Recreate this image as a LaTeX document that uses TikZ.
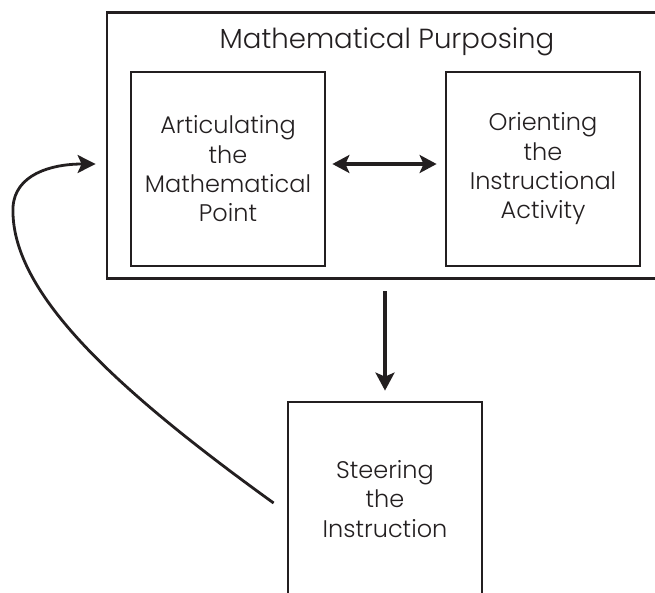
\documentclass[tikz,border=0pt]{standalone}
\usepackage{fontspec}
\setmainfont{Poppins}[UprightFont={* Light}]
\usetikzlibrary{arrows.meta}
\definecolor{ink}{HTML}{231F20}
\tikzset{
  panel/.style={draw=ink, line width=2.8pt, minimum width=194pt, minimum height=194pt,
    inner sep=0pt, align=center, text=ink, font=\fontsize{24}{29.3}\selectfont},
  frame/.style={draw=ink, line width=2.8pt, inner sep=0pt},
  link/.style={draw=ink, line width=3.2pt, -{Stealth[length=18pt,width=19pt,inset=4pt]}},
  biglink/.style={draw=ink, line width=3.2pt, {Stealth[length=17pt,width=18pt,inset=4pt]}-{Stealth[length=17pt,width=18pt,inset=4pt]}},
  looplink/.style={draw=ink, line width=2.8pt, -{Stealth[length=18pt,width=18pt,inset=4pt]}}
}
\begin{document}
\begin{tikzpicture}[x=1pt,y=-1pt]
  \useasboundingbox (0,0) rectangle (655,592);
  \clip (0,0) rectangle (655,592);

  % outer frame and its heading
  \node[frame, minimum width=557pt, minimum height=266pt] (purpose) at (385.5,145.6) {};
  \node[text=ink, font=\fontsize{27.6}{31}\selectfont, anchor=base] (title) at (387,48) {Mathematical Purposing};

  % the two inner panels and the lower panel
  \node[panel] (point) at (228,169) {Articulating\\the\\Mathematical\\Point};
  \node[panel] (activity) at (543,169) {Orienting\\the\\Instructional\\Activity};
  \node[panel] (steer) at (385,499) {Steering\\the\\Instruction};

  % connectors
  \draw[biglink, shorten <=6pt, shorten >=8pt] ([yshift=5pt]point.east) -- ([yshift=5pt]activity.west);
  \draw[link, shorten <=11pt, shorten >=10pt] (steer.north |- purpose.south) -- (steer.north);

  \coordinate (loopstart) at ([xshift=-13pt,yshift=-4pt]steer.west);
  \coordinate (loopturn) at (13,207);
  \coordinate (loopend) at ([xshift=-10pt,yshift=-18.4pt]purpose.west);
  \draw[looplink] (loopstart) .. controls (110,385) and (10,290) .. (loopturn)
    .. controls (15,175) and (50,164) .. (loopend);
\end{tikzpicture}
\end{document}
